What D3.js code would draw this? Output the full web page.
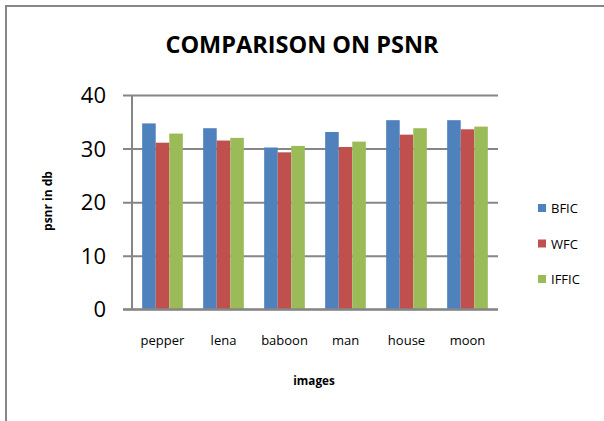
<!DOCTYPE html>
<html>
<head>
<meta charset="utf-8">
<script src="https://cdn.jsdelivr.net/npm/d3@7"></script>
<style>
  html, body { margin: 0; padding: 0; background: #fff; }
  svg { display: block; font-family: "Open Sans", "Liberation Sans", sans-serif; }
</style>
</head>
<body>
<svg id="chart" width="604" height="421"></svg>
<script>
// PSNR (dB) per test image for each compression method
const categories = ["pepper", "lena", "baboon", "man", "house", "moon"];
const seriesNames = ["BFIC", "WFC", "IFFIC"];
const bficValues  = [34.7, 33.8, 30.2, 33.1, 35.3, 35.3];
const wfcValues   = [31.1, 31.5, 29.3, 30.3, 32.6, 33.6];
const ifficValues = [32.8, 32.0, 30.5, 31.3, 33.8, 34.1];
const yTicks = [0, 10, 20, 30, 40];
const colors = ["#4F81BD", "#C0504D", "#9BBB59"];

const seriesValues = [bficValues, wfcValues, ifficValues];
const rows = categories.map((c, i) => ({
  category: c,
  values: seriesNames.map((s, j) => ({ series: s, value: seriesValues[j][i] }))
}));

const svg = d3.select("#chart");

// outer chart frame (runs off the right and bottom edges)
svg.append("rect")
  .attr("x", 6).attr("y", 6)
  .attr("width", 640).attr("height", 460)
  .attr("fill", "none")
  .attr("stroke", "#878787")
  .attr("stroke-width", 2);

const plot = { left: 132, right: 498, top: 95, bottom: 309.3 };

const x = d3.scaleBand()
  .domain(categories)
  .range([plot.left, plot.right])
  .paddingInner(0)
  .paddingOuter(0);

// Excel-style 150% gap: bars take 3/(3+1.5) of each band
const inner = d3.scaleBand()
  .domain(seriesNames)
  .range([0, x.bandwidth() * 3 / 4.5]);
const groupOffset = x.bandwidth() * 0.75 / 4.5;

const y = d3.scaleLinear().domain([0, 40]).range([plot.bottom, plot.top]);

// gridlines with small tick stubs to the left of the axis
const yAxis = d3.axisLeft(y)
  .tickValues(yTicks)
  .tickSize(-(plot.right - plot.left))
  .tickSizeOuter(0)
  .tickFormat("");
const gGrid = svg.append("g")
  .attr("transform", `translate(${plot.left},0)`)
  .call(yAxis);
gGrid.select(".domain").remove();
gGrid.selectAll(".tick line")
  .attr("x1", -9)
  .attr("stroke", "#868686")
  .attr("stroke-width", 2);

// y axis line
svg.append("line")
  .attr("x1", plot.left).attr("x2", plot.left)
  .attr("y1", plot.top).attr("y2", plot.bottom)
  .attr("stroke", "#868686").attr("stroke-width", 2);

// y tick labels
svg.append("g").selectAll("text")
  .data(yTicks)
  .join("text")
  .attr("x", 106)
  .attr("y", d => y(d) + 8)
  .attr("text-anchor", "end")
  .attr("font-size", 22)
  .attr("fill", "#000")
  .text(d => d);

// bars
const groups = svg.append("g").selectAll("g")
  .data(rows)
  .join("g")
  .attr("transform", d => `translate(${x(d.category) + groupOffset},0)`);

groups.selectAll("rect")
  .data(d => d.values)
  .join("rect")
  .attr("x", d => inner(d.series))
  .attr("width", inner.bandwidth())
  .attr("y", d => y(d.value))
  .attr("height", d => y(0) - y(d.value))
  .attr("fill", (d, i) => colors[i]);

// redraw the baseline over the bars
svg.append("line")
  .attr("x1", plot.left - 9).attr("x2", plot.right)
  .attr("y1", y(0)).attr("y2", y(0))
  .attr("stroke", "#868686").attr("stroke-width", 2);

// category labels
svg.append("g").selectAll("text")
  .data(categories)
  .join("text")
  .attr("x", d => x(d) + x.bandwidth() / 2)
  .attr("y", 345)
  .attr("text-anchor", "middle")
  .attr("font-size", 13)
  .attr("fill", "#000")
  .text(d => d);

// title
svg.append("text")
  .attr("x", 302).attr("y", 53)
  .attr("text-anchor", "middle")
  .attr("font-size", 23.5)
  .attr("font-weight", "bold")
  .attr("fill", "#000")
  .text("COMPARISON ON PSNR");

// axis titles
svg.append("text")
  .attr("x", 314).attr("y", 385)
  .attr("text-anchor", "middle")
  .attr("font-size", 11.7)
  .attr("font-weight", "bold")
  .text("images");

svg.append("text")
  .attr("transform", "translate(52,201) rotate(-90)")
  .attr("text-anchor", "middle")
  .attr("font-size", 12)
  .attr("font-weight", "bold")
  .text("psnr in db");

// legend
const legend = svg.append("g").selectAll("g")
  .data(seriesNames)
  .join("g")
  .attr("transform", (d, i) => `translate(538,${204 + i * 35.5})`);
legend.append("rect")
  .attr("width", 8).attr("height", 8)
  .attr("fill", (d, i) => colors[i]);
legend.append("text")
  .attr("x", 13).attr("y", 9)
  .attr("font-size", 13)
  .text(d => d);
</script>
</body>
</html>
